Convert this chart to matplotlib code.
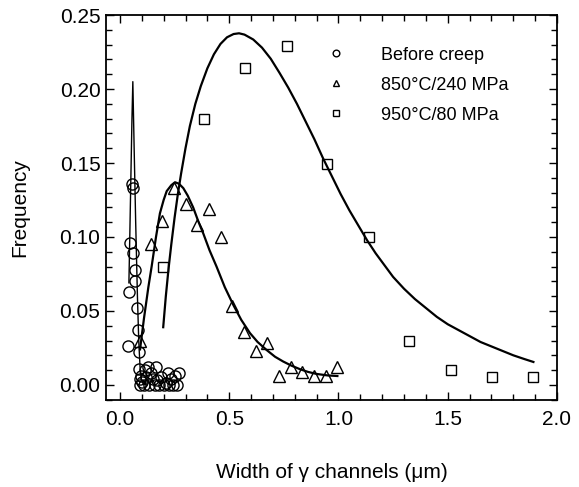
import numpy as np
import matplotlib
matplotlib.use("Agg")
import matplotlib.pyplot as plt
from matplotlib.ticker import MultipleLocator, FormatStrFormatter

plt.rcParams['font.family'] = ['Liberation Sans', 'DejaVu Sans']

# measured points
before_x = [0.038, 0.041, 0.046, 0.054, 0.061, 0.061, 0.067, 0.070, 0.076, 0.084,
            0.086, 0.088, 0.090, 0.090, 0.096, 0.100, 0.108, 0.114, 0.120, 0.130,
            0.135, 0.140, 0.150, 0.160, 0.165, 0.171, 0.180, 0.190, 0.200, 0.210,
            0.221, 0.225, 0.235, 0.245, 0.250, 0.260, 0.271]
before_y = [0.026, 0.063, 0.096, 0.136, 0.133, 0.089, 0.078, 0.070, 0.052, 0.037,
            0.022, 0.011, 0.004, 0.000, 0.006, 0.002, 0.000, 0.010, 0.005, 0.012,
            0.000, 0.008, 0.004, 0.000, 0.012, 0.003, 0.000, 0.005, 0.000, 0.001,
            0.008, 0.000, 0.004, 0.000, 0.006, 0.000, 0.008]

t850_x = [0.092, 0.140, 0.194, 0.247, 0.302, 0.351, 0.409, 0.461, 0.514, 0.567,
          0.621, 0.674, 0.728, 0.781, 0.834, 0.888, 0.941, 0.995]
t850_y = [0.030, 0.095, 0.111, 0.133, 0.122, 0.108, 0.119, 0.100, 0.053, 0.036,
          0.023, 0.028, 0.006, 0.012, 0.009, 0.006, 0.006, 0.012]

t950_x = [0.198, 0.384, 0.572, 0.763, 0.949, 1.140, 1.324, 1.515, 1.701, 1.889]
t950_y = [0.080, 0.1795, 0.214, 0.229, 0.149, 0.0997, 0.030, 0.010, 0.005, 0.005]

# fitted curves
fit0_x = [0.041, 0.045, 0.050, 0.055, 0.059, 0.065, 0.072, 0.080, 0.086, 0.092,
          0.098, 0.105, 0.120]
fit0_y = [0.069, 0.100, 0.140, 0.180, 0.205, 0.160, 0.110, 0.060, 0.030, 0.012,
          0.004, 0.001, 0.000]

fit850_x = [0.092, 0.110, 0.130, 0.145, 0.165, 0.183, 0.200, 0.214, 0.235, 0.252,
            0.270, 0.290, 0.310, 0.335, 0.360, 0.381, 0.410, 0.442, 0.480, 0.519,
            0.555, 0.595, 0.630, 0.671, 0.710, 0.747, 0.785, 0.824, 0.860, 0.900,
            0.950, 0.995]
fit850_y = [0.024, 0.045, 0.066, 0.080, 0.100, 0.116, 0.125, 0.131, 0.135, 0.137,
            0.136, 0.133, 0.128, 0.120, 0.110, 0.1025, 0.091, 0.080, 0.066, 0.054,
            0.044, 0.035, 0.029, 0.0236, 0.019, 0.0158, 0.013, 0.0106, 0.0088, 0.0074,
            0.0064, 0.006]

fit950_x = [0.198, 0.210, 0.222, 0.235, 0.250, 0.265, 0.280, 0.300, 0.320, 0.345,
            0.370, 0.400, 0.430, 0.460, 0.490, 0.520, 0.545, 0.570, 0.610, 0.650,
            0.690, 0.730, 0.770, 0.810, 0.850, 0.890, 0.930, 0.970, 1.010, 1.050,
            1.090, 1.130, 1.170, 1.210, 1.250, 1.300, 1.350, 1.400, 1.450, 1.500,
            1.550, 1.600, 1.650, 1.700, 1.750, 1.800, 1.850, 1.892]
fit950_y = [0.039, 0.060, 0.078, 0.095, 0.113, 0.129, 0.143, 0.160, 0.175, 0.190,
            0.202, 0.214, 0.2235, 0.2305, 0.235, 0.2372, 0.2377, 0.2368, 0.2335, 0.228,
            0.2205, 0.211, 0.201, 0.190, 0.178, 0.166, 0.153, 0.141, 0.129, 0.118,
            0.108, 0.098, 0.089, 0.081, 0.073, 0.065, 0.058, 0.052, 0.046, 0.041,
            0.037, 0.033, 0.029, 0.026, 0.023, 0.020, 0.0175, 0.0155]

fig = plt.figure(figsize=(5.79, 4.87), dpi=100)
ax = fig.add_axes([0.183, 0.179, 0.779, 0.790])

ax.plot(fit0_x, fit0_y, color='black', lw=1.0)
ax.plot(fit850_x, fit850_y, color='black', lw=1.6)
ax.plot(fit950_x, fit950_y, color='black', lw=1.6)

ax.plot(before_x, before_y, 'o', ms=8, mfc='none', mec='black', mew=1.0,
        label='Before creep')
ax.plot(t850_x, t850_y, '^', ms=8, mfc='none', mec='black', mew=1.0,
        label='850°C/240 MPa')
ax.plot(t950_x, t950_y, 's', ms=6.5, mfc='none', mec='black', mew=1.0,
        label='950°C/80 MPa')

ax.set_xlim(-0.064, 2.0)
ax.set_ylim(-0.0101, 0.25)
ax.xaxis.set_major_locator(MultipleLocator(0.5))
ax.xaxis.set_minor_locator(MultipleLocator(0.1))
ax.yaxis.set_major_locator(MultipleLocator(0.05))
ax.yaxis.set_minor_locator(MultipleLocator(0.01))
ax.xaxis.set_major_formatter(FormatStrFormatter('%.1f'))
ax.yaxis.set_major_formatter(FormatStrFormatter('%.2f'))
ax.tick_params(which='both', direction='in', top=True, right=True, width=1.0,
               labelsize=15)
ax.tick_params(which='major', length=6)
ax.tick_params(which='minor', length=4)
ax.tick_params(axis='x', which='major', pad=7)
ax.tick_params(axis='y', which='major', pad=4)
for s in ax.spines.values():
    s.set_linewidth(1.3)

ax.set_xlabel('Width of γ channels (μm)', fontsize=15, labelpad=25)
ax.set_ylabel('Frequency', fontsize=15, labelpad=22)

ax.legend(loc='upper left', bbox_to_anchor=(0.445, 0.96), frameon=False,
          fontsize=13, markerscale=0.6, handlelength=1.5, handletextpad=1.7,
          labelspacing=0.72)

fig.savefig('out.png', dpi=100)
